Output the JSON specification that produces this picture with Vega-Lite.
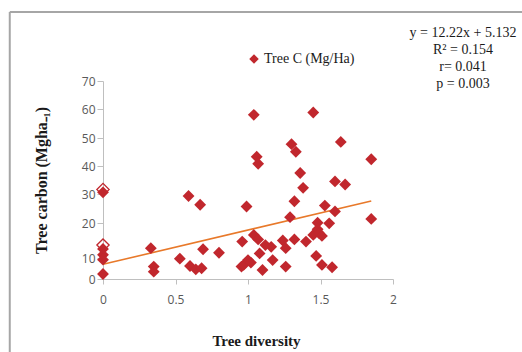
{
  "$schema": "https://vega.github.io/schema/vega-lite/v6.json",
  "width": 290,
  "height": 198,
  "autosize": "none",
  "padding": {"left": 103, "top": 81, "right": 129, "bottom": 73},
  "background": "white",
  "config": {"view": {"stroke": null}},
  "title": {
    "text": ["y = 12.22x + 5.132", "R² = 0.154", "r= 0.041", "p = 0.003"],
    "orient": "top",
    "anchor": "end",
    "frame": "group",
    "align": "center",
    "baseline": "top",
    "dx": 70,
    "dy": 80,
    "offset": 0,
    "lineHeight": 17,
    "font": "Liberation Serif",
    "fontSize": 14,
    "fontWeight": "normal",
    "color": "#1a1a1a"
  },
  "datasets": {
    "points": [
      {"x": 0, "y": 30.6}, {"x": 0, "y": 12.6}, {"x": 0, "y": 10.9}, {"x": 0, "y": 9.2}, {"x": 0, "y": 2.4},
      {"x": 0.33, "y": 12.8}, {"x": 0.35, "y": 5.9}, {"x": 0.35, "y": 3.5}, {"x": 0.53, "y": 9.7},
      {"x": 0.59, "y": 29.3}, {"x": 0.6, "y": 6.2}, {"x": 0.64, "y": 4.6}, {"x": 0.68, "y": 5.1},
      {"x": 0.67, "y": 26.3}, {"x": 0.69, "y": 12.5}, {"x": 0.8, "y": 11.5}, {"x": 0.955, "y": 5.9},
      {"x": 0.96, "y": 14.7}, {"x": 0.99, "y": 25.7}, {"x": 0.97, "y": 6.7}, {"x": 1.0, "y": 9.0},
      {"x": 1.02, "y": 7.8}, {"x": 1.04, "y": 58.0}, {"x": 1.04, "y": 16.6}, {"x": 1.06, "y": 43.3},
      {"x": 1.07, "y": 40.8}, {"x": 1.07, "y": 15.3}, {"x": 1.08, "y": 11.3}, {"x": 1.1, "y": 4.3},
      {"x": 1.12, "y": 13.7}, {"x": 1.16, "y": 13.2}, {"x": 1.17, "y": 9.0}, {"x": 1.24, "y": 15.0},
      {"x": 1.26, "y": 12.8}, {"x": 1.26, "y": 5.9}, {"x": 1.29, "y": 22.0}, {"x": 1.3, "y": 47.8},
      {"x": 1.33, "y": 45.1}, {"x": 1.32, "y": 27.5}, {"x": 1.32, "y": 15.3}, {"x": 1.36, "y": 37.5},
      {"x": 1.38, "y": 32.2}, {"x": 1.4, "y": 14.7}, {"x": 1.45, "y": 58.8}, {"x": 1.45, "y": 16.6},
      {"x": 1.47, "y": 10.6}, {"x": 1.48, "y": 20.1}, {"x": 1.48, "y": 18.2}, {"x": 1.49, "y": 17.1},
      {"x": 1.51, "y": 16.3}, {"x": 1.51, "y": 6.7}, {"x": 1.53, "y": 26.0}, {"x": 1.56, "y": 19.9},
      {"x": 1.58, "y": 5.6}, {"x": 1.6, "y": 34.5}, {"x": 1.6, "y": 24.0}, {"x": 1.64, "y": 48.6},
      {"x": 1.67, "y": 33.4}, {"x": 1.85, "y": 42.4}, {"x": 1.85, "y": 21.4}
    ],
    "hollow": [{"x": 0, "y": 31.6}, {"x": 0, "y": 13.7}],
    "trend": [{"x": 0, "y": 7.0}, {"x": 1.85, "y": 27.6}],
    "frame": [{"x": -0.643, "x2": 3.0, "y": 94.6, "y2": -38.6}]
  },
  "encoding": {
    "x": {
      "field": "x", "type": "quantitative",
      "scale": {"domain": [0, 2], "nice": false, "zero": false},
      "axis": {
        "title": "Tree diversity",
        "values": [0, 0.5, 1, 1.5, 2],
        "format": "~g",
        "grid": false,
        "domainColor": "#bfbfbf", "tickColor": "#bfbfbf", "tickSize": 5,
        "labelFont": "Open Sans", "labelFontSize": 12, "labelColor": "#595959", "labelPadding": 10,
        "labelFlush": false,
        "titleFont": "Liberation Serif", "titleFontSize": 15, "titleFontWeight": "bold", "titleColor": "#1a1a1a",
        "titleX": 153, "titleY": 66, "titleBaseline": "alphabetic"
      }
    },
    "y": {
      "field": "y", "type": "quantitative",
      "scale": {"domain": [0, 10, 20, 30, 40, 50, 60, 70], "range": [198, 177, 142, 113, 85, 57, 28, 0], "nice": false},
      "axis": {
        "title": "Tree carbon (Mgha₋₁)",
        "values": [0, 10, 20, 30, 40, 50, 60, 70],
        "grid": false,
        "domainColor": "#bfbfbf", "tickColor": "#bfbfbf", "tickSize": 6,
        "labelFont": "Open Sans", "labelFontSize": 12, "labelColor": "#595959", "labelPadding": 2,
        "labelFlush": false,
        "titleFont": "Liberation Serif", "titleFontSize": 16, "titleFontWeight": "bold", "titleColor": "#1a1a1a",
        "titleAngle": -90, "titleX": -57, "titleY": 99, "titleBaseline": "alphabetic", "titleAlign": "center"
      }
    }
  },
  "layer": [
    {
      "data": {"name": "frame"},
      "mark": {"type": "rule", "stroke": "#a6a6a6", "strokeWidth": 2, "clip": false},
      "encoding": {
        "x": {"field": "x", "type": "quantitative"},
        "y": {"field": "y", "type": "quantitative"},
        "y2": {"field": "y2"}
      }
    },
    {
      "data": {"name": "frame"},
      "mark": {"type": "rule", "stroke": "#a6a6a6", "strokeWidth": 2, "clip": false},
      "encoding": {
        "x": {"field": "x", "type": "quantitative"},
        "x2": {"field": "x2"},
        "y": {"field": "y", "type": "quantitative"}
      }
    },
    {
      "data": {"name": "trend"},
      "mark": {"type": "line", "color": "#e8792a", "strokeWidth": 1.6},
      "encoding": {}
    },
    {
      "data": {"name": "hollow"},
      "mark": {"type": "point", "shape": "diamond", "filled": false, "stroke": "#c1272d", "strokeWidth": 1.3, "size": 150, "opacity": 1},
      "encoding": {}
    },
    {
      "data": {"name": "points"},
      "mark": {"type": "point", "shape": "diamond", "filled": true, "size": 140, "opacity": 1},
      "encoding": {
        "color": {
          "datum": "Tree C (Mg/Ha)", "type": "nominal",
          "scale": {"range": ["#c1272d"]},
          "legend": {
            "title": null, "orient": "none", "legendX": 144, "legendY": -29,
            "symbolType": "diamond", "symbolSize": 90, "symbolOpacity": 1,
            "labelFont": "Liberation Serif", "labelFontSize": 14, "labelColor": "#1a1a1a", "labelOffset": 3,
            "padding": 0
          }
        }
      }
    }
  ]
}
